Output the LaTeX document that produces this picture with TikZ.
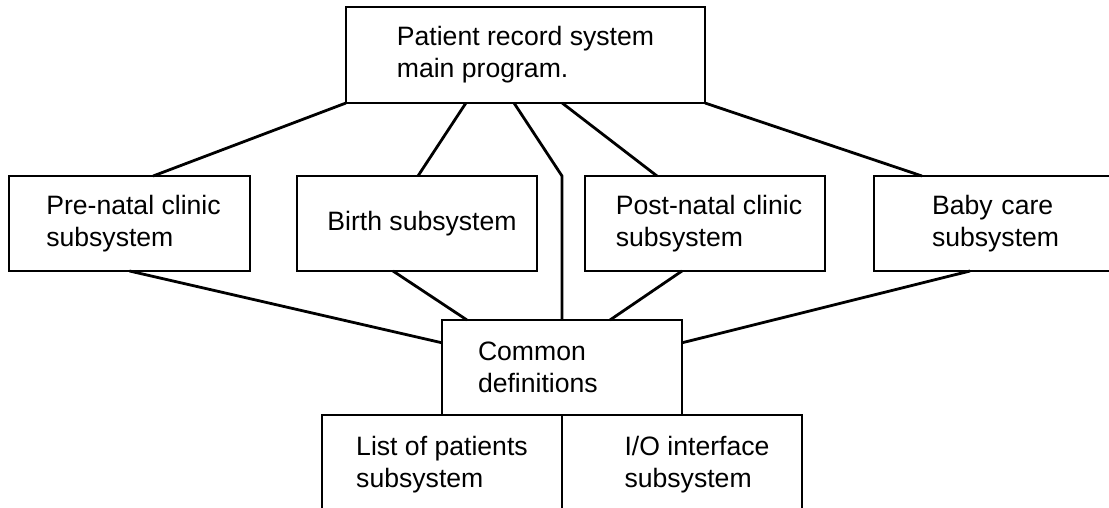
\documentclass[tikz,border=0pt]{standalone}
\usepackage{fontspec}
\setmainfont{Liberation Sans}
\usetikzlibrary{calc}
\begin{document}
\begin{tikzpicture}[x=0.5pt,y=-0.5pt,
  box/.style={draw=black, line width=1pt, inner sep=0pt, outer sep=0pt,
    align=left, minimum width=120pt, minimum height=47.5pt,
    font=\fontsize{13.3pt}{16pt}\selectfont},
  link/.style={draw=black, line width=1.4pt, line join=miter}]
\useasboundingbox (0,0) rectangle (1109,508);

\node[box, minimum width=179.5pt, minimum height=48pt] (top) at (525.5,55) {Patient record system\\main program.};
\node[box, minimum width=120.5pt] (pre) at (129.5,223.5) {\hspace*{4pt}Pre-natal clinic\\\hspace*{4pt}subsystem};
\node[box] (birth) at (417,223.5) {\hspace*{5pt}Birth subsystem};
\node[box] (post) at (705,223.5) {\hspace*{4pt}Post-natal clinic\\\hspace*{4pt}subsystem};
\node[box, minimum width=150pt, text width=92pt] (baby) at (1024,223.5) {Baby care\\subsystem};
\node[box, text width=84pt] (common) at (562,367.5) {Common\\definitions};
\node[box, minimum height=49.5pt] (list) at (442,464.5) {List of patients\\subsystem};
\node[box, minimum height=49.5pt] (io) at (682,464.5) {\hspace*{15pt}I/O interface\\\hspace*{15pt}subsystem};

\path[link] (top.south west) -- ($(pre.north west)!0.598!(pre.north east)$);
\path[link] ($(top.south west)!0.334!(top.south east)$) -- ($(birth.north west)!0.504!(birth.north east)$);
\path[link] ($(top.south west)!0.468!(top.south east)$) -- (common.north |- birth.north) -- (common.north);
\path[link] ($(top.south west)!0.602!(top.south east)$) -- ($(post.north west)!0.3!(post.north east)$);
\path[link] (top.south east) -- ($(baby.north west)!0.16!(baby.north east)$);

\path[link] (pre.south) -- ($(common.north west)!0.24!(common.south west)$);
\path[link] ($(birth.south west)!0.4!(birth.south east)$) -- ($(common.north west)!0.104!(common.north east)$);
\path[link] ($(post.south west)!0.404!(post.south east)$) -- ($(common.north west)!0.7!(common.north east)$);
\path[link] ($(baby.south west)!0.32!(baby.south east)$) -- ($(common.north east)!0.24!(common.south east)$);
\end{tikzpicture}
\end{document}
